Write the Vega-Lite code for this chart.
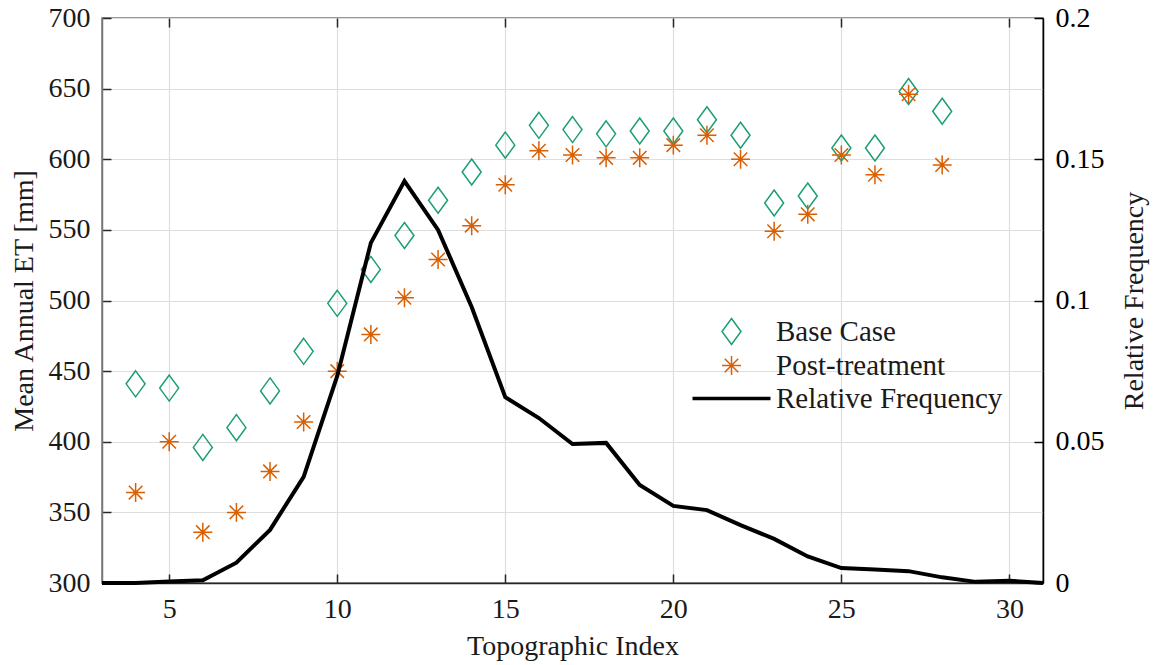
{
  "$schema": "https://vega.github.io/schema/vega-lite/v6.json",
  "width": 941,
  "height": 565,
  "autosize": "none",
  "padding": {"left": 102, "top": 18, "right": 110, "bottom": 82},
  "background": "white",
  "config": {
    "font": "Liberation Serif",
    "view": {"stroke": "#777777", "strokeWidth": 1.5},
    "legend": {"labelFont": "Liberation Serif"},
    "axis": {
      "labelFont": "Liberation Serif",
      "titleFont": "Liberation Serif",
      "labelFontSize": 28,
      "titleFontSize": 28,
      "titleFontWeight": "normal",
      "labelColor": "#1a1a1a",
      "titleColor": "#1a1a1a",
      "tickColor": "#262626",
      "domainColor": "#262626",
      "gridColor": "#dedede",
      "gridWidth": 1.2,
      "tickSize": -9,
      "tickWidth": 1.5,
      "domainWidth": 1.5,
      "labelPadding": 21
    }
  },
  "data": {
    "values": [
      {"x": 4, "series": "Base Case", "value": 441},
      {"x": 5, "series": "Base Case", "value": 438},
      {"x": 6, "series": "Base Case", "value": 396},
      {"x": 7, "series": "Base Case", "value": 410},
      {"x": 8, "series": "Base Case", "value": 436},
      {"x": 9, "series": "Base Case", "value": 464},
      {"x": 10, "series": "Base Case", "value": 498},
      {"x": 11, "series": "Base Case", "value": 522},
      {"x": 12, "series": "Base Case", "value": 546},
      {"x": 13, "series": "Base Case", "value": 571},
      {"x": 14, "series": "Base Case", "value": 591},
      {"x": 15, "series": "Base Case", "value": 610},
      {"x": 16, "series": "Base Case", "value": 624},
      {"x": 17, "series": "Base Case", "value": 621},
      {"x": 18, "series": "Base Case", "value": 618},
      {"x": 19, "series": "Base Case", "value": 620},
      {"x": 20, "series": "Base Case", "value": 620},
      {"x": 21, "series": "Base Case", "value": 628},
      {"x": 22, "series": "Base Case", "value": 617},
      {"x": 23, "series": "Base Case", "value": 569},
      {"x": 24, "series": "Base Case", "value": 574},
      {"x": 25, "series": "Base Case", "value": 608},
      {"x": 26, "series": "Base Case", "value": 608},
      {"x": 27, "series": "Base Case", "value": 648},
      {"x": 28, "series": "Base Case", "value": 634},
      {"x": 4, "series": "Post-treatment", "value": 364},
      {"x": 5, "series": "Post-treatment", "value": 400},
      {"x": 6, "series": "Post-treatment", "value": 336},
      {"x": 7, "series": "Post-treatment", "value": 350},
      {"x": 8, "series": "Post-treatment", "value": 379},
      {"x": 9, "series": "Post-treatment", "value": 414},
      {"x": 10, "series": "Post-treatment", "value": 450},
      {"x": 11, "series": "Post-treatment", "value": 476},
      {"x": 12, "series": "Post-treatment", "value": 502},
      {"x": 13, "series": "Post-treatment", "value": 529},
      {"x": 14, "series": "Post-treatment", "value": 553},
      {"x": 15, "series": "Post-treatment", "value": 582},
      {"x": 16, "series": "Post-treatment", "value": 606},
      {"x": 17, "series": "Post-treatment", "value": 603},
      {"x": 18, "series": "Post-treatment", "value": 601},
      {"x": 19, "series": "Post-treatment", "value": 601},
      {"x": 20, "series": "Post-treatment", "value": 610},
      {"x": 21, "series": "Post-treatment", "value": 617},
      {"x": 22, "series": "Post-treatment", "value": 600},
      {"x": 23, "series": "Post-treatment", "value": 549},
      {"x": 24, "series": "Post-treatment", "value": 561},
      {"x": 25, "series": "Post-treatment", "value": 603},
      {"x": 26, "series": "Post-treatment", "value": 589},
      {"x": 27, "series": "Post-treatment", "value": 646},
      {"x": 28, "series": "Post-treatment", "value": 596},
      {"x": 3, "series": "Relative Frequency", "value": 0},
      {"x": 4, "series": "Relative Frequency", "value": 0},
      {"x": 5, "series": "Relative Frequency", "value": 0.0005},
      {"x": 6, "series": "Relative Frequency", "value": 0.001},
      {"x": 7, "series": "Relative Frequency", "value": 0.0072},
      {"x": 8, "series": "Relative Frequency", "value": 0.0188},
      {"x": 9, "series": "Relative Frequency", "value": 0.0376},
      {"x": 10, "series": "Relative Frequency", "value": 0.0733},
      {"x": 11, "series": "Relative Frequency", "value": 0.1204},
      {"x": 12, "series": "Relative Frequency", "value": 0.1423},
      {"x": 13, "series": "Relative Frequency", "value": 0.125},
      {"x": 14, "series": "Relative Frequency", "value": 0.0977},
      {"x": 15, "series": "Relative Frequency", "value": 0.0658},
      {"x": 16, "series": "Relative Frequency", "value": 0.0584},
      {"x": 17, "series": "Relative Frequency", "value": 0.0492},
      {"x": 18, "series": "Relative Frequency", "value": 0.0496},
      {"x": 19, "series": "Relative Frequency", "value": 0.0347},
      {"x": 20, "series": "Relative Frequency", "value": 0.0273},
      {"x": 21, "series": "Relative Frequency", "value": 0.0258},
      {"x": 22, "series": "Relative Frequency", "value": 0.0205},
      {"x": 23, "series": "Relative Frequency", "value": 0.0156},
      {"x": 24, "series": "Relative Frequency", "value": 0.0094},
      {"x": 25, "series": "Relative Frequency", "value": 0.0053},
      {"x": 26, "series": "Relative Frequency", "value": 0.0048},
      {"x": 27, "series": "Relative Frequency", "value": 0.0042},
      {"x": 28, "series": "Relative Frequency", "value": 0.002},
      {"x": 29, "series": "Relative Frequency", "value": 0.0004},
      {"x": 30, "series": "Relative Frequency", "value": 0.0008},
      {"x": 31, "series": "Relative Frequency", "value": 0}
    ]
  },
  "layer": [
    {
      "transform": [{"filter": "datum.series !== 'Relative Frequency'"}],
      "mark": {"type": "point", "filled": false, "strokeWidth": 1.5, "size": 676, "opacity": 1},
      "encoding": {
        "x": {
          "field": "x", "type": "quantitative",
          "scale": {"domain": [3, 31], "nice": false, "zero": false},
          "axis": {"orient": "bottom", "values": [5, 10, 15, 20, 25, 30], "grid": true, "title": "Topographic Index", "titlePadding": 9}
        },
        "y": {
          "field": "value", "type": "quantitative",
          "scale": {"domain": [300, 700], "nice": false, "zero": false},
          "axis": {"orient": "left", "values": [300, 350, 400, 450, 500, 550, 600, 650, 700], "grid": true, "title": "Mean Annual ET [mm]", "titlePadding": 10, "domainColor": "#777777"}
        },
        "color": {
          "field": "series", "type": "nominal",
          "scale": {"domain": ["Base Case", "Post-treatment", "Relative Frequency"], "range": ["#1b9e77", "#d95f02", "#000000"]},
          "legend": {
            "orient": "none", "legendX": 615, "legendY": 299, "title": null,
            "labelFont": "Liberation Serif", "labelFontSize": 29, "labelColor": "#1a1a1a", "labelLimit": 0,
            "labelOffset": 30, "symbolSize": 676, "rowPadding": 3, "symbolStrokeWidth": 1.5
          }
        },
        "shape": {
          "field": "series", "type": "nominal",
          "scale": {"domain": ["Base Case", "Post-treatment", "Relative Frequency"], "range": ["M0,-1L0.73,0L0,1L-0.73,0Z", "M-0.73,0L0.73,0M0,-0.73L0,0.73M-0.52,-0.52L0.52,0.52M-0.52,0.52L0.52,-0.52", "M-3,-0.08L3,-0.08M-3,0L3,0M-3,0.08L3,0.08"]},
          "legend": {
            "orient": "none", "legendX": 615, "legendY": 299, "title": null,
            "labelFont": "Liberation Serif", "labelFontSize": 29, "labelColor": "#1a1a1a", "labelLimit": 0,
            "labelOffset": 30, "symbolSize": 676, "rowPadding": 3, "symbolStrokeWidth": 1.5
          }
        }
      }
    },
    {
      "transform": [{"filter": "datum.series === 'Relative Frequency'"}],
      "mark": {"type": "line", "color": "black", "strokeWidth": 4},
      "encoding": {
        "x": {
          "field": "x", "type": "quantitative",
          "axis": {"orient": "top", "values": [5, 10, 15, 20, 25, 30], "labels": false, "grid": false, "domain": false, "title": null}
        },
        "y": {
          "field": "value", "type": "quantitative",
          "scale": {"domain": [0, 0.2], "nice": false, "zero": false},
          "axis": {"orient": "right", "values": [0, 0.05, 0.1, 0.15, 0.2], "format": "~g", "grid": false, "title": "Relative Frequency", "titleAngle": 270, "titlePadding": 44, "domainColor": "#000000", "tickColor": "#000000", "labelColor": "#000000"}
        },
        "color": {"field": "series", "type": "nominal"}
      }
    }
  ],
  "resolve": {"scale": {"y": "independent"}, "axis": {"x": "independent"}}
}
